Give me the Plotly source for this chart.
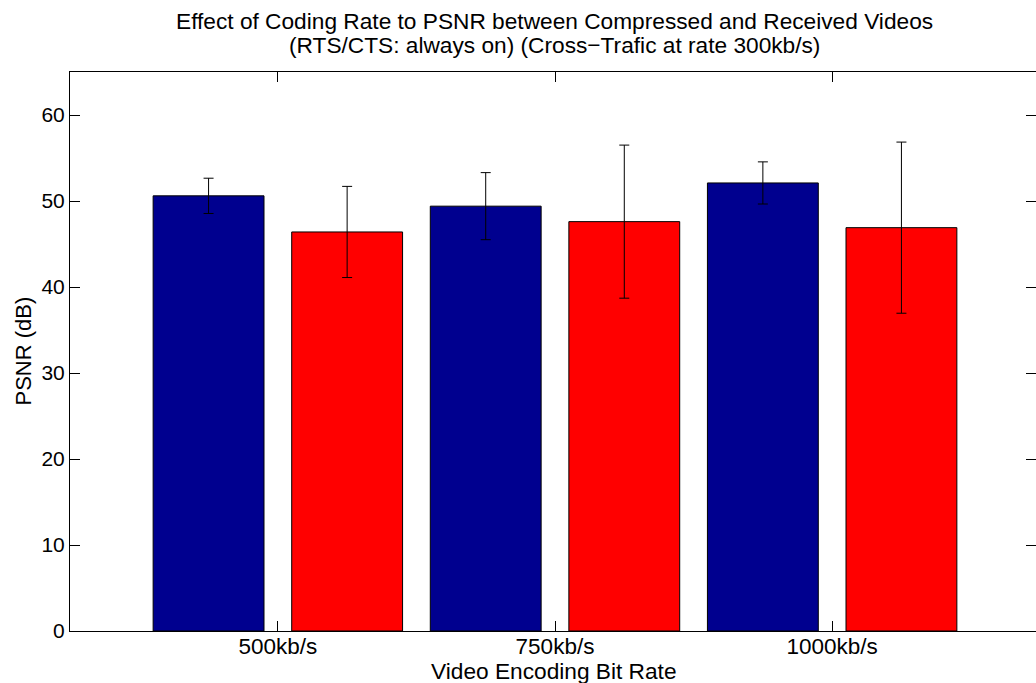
import plotly.graph_objects as go

categories = ["500kb/s", "750kb/s", "1000kb/s"]
cat_pos = [1, 2, 3]
compressed_psnr = [50.6, 49.4, 52.1]
compressed_err = [2.05, 3.9, 2.45]
received_psnr = [46.4, 47.6, 46.9]
received_err = [5.3, 8.9, 9.95]

FONT = "Liberation Sans, Arial, Helvetica, sans-serif"
FS = 22.7
W, H = 1036, 683
ML, MR, MT, MB = 70, 0, 72, 52
PW, PH = W - ML - MR, H - MT - MB

fig = go.Figure()
fig.add_trace(go.Bar(
    x=cat_pos, y=compressed_psnr, width=0.4, offset=-0.45,
    marker=dict(color="#00008F", line=dict(color="black", width=1)),
    error_y=dict(type="data", array=compressed_err, color="black", thickness=1, width=5),
    showlegend=False, name="Compressed"))
fig.add_trace(go.Bar(
    x=cat_pos, y=received_psnr, width=0.4, offset=0.05,
    marker=dict(color="#FF0000", line=dict(color="black", width=1)),
    error_y=dict(type="data", array=received_err, color="black", thickness=1, width=5),
    showlegend=False, name="Received"))

px_per_unit = 970 / 3.5
fig.update_layout(
    width=W, height=H, barmode="overlay",
    margin=dict(l=ML, r=MR, t=MT, b=MB, pad=0),
    paper_bgcolor="white", plot_bgcolor="white",
    font=dict(family=FONT, size=FS, color="black"),
    xaxis=dict(range=[0.25, 0.25 + PW / px_per_unit], tickvals=cat_pos, ticktext=categories,
               ticks="inside", ticklen=10, tickcolor="black", showline=True, linecolor="black",
               linewidth=1, mirror="ticks", showgrid=False, zeroline=False,
               ticklabelstandoff=-5,
               tickfont=dict(family=FONT, size=22.5)),
    yaxis=dict(range=[0, 65], tickvals=[0, 10, 20, 30, 40, 50, 60],
               ticks="inside", ticklen=10, tickcolor="black", showline=True, linecolor="black",
               linewidth=1, mirror="ticks", showgrid=False, zeroline=False,
               tickfont=dict(family=FONT, size=21)),
    annotations=[
        dict(text="Effect of Coding Rate to PSNR between Compressed and Received Videos",
             xref="paper", yref="paper", x=(554 - ML) / PW, y=1 + (MT - 20.5) / PH,
             xanchor="center", yanchor="middle", showarrow=False, font=dict(size=FS)),
        dict(text="(RTS/CTS: always on) (Cross\u2212Trafic at rate 300kb/s)",
             xref="paper", yref="paper", x=(554 - ML) / PW, y=1 + (MT - 44.5) / PH,
             xanchor="center", yanchor="middle", showarrow=False, font=dict(size=FS)),
        dict(text="Video Encoding Bit Rate",
             xref="paper", yref="paper", x=(554 - ML) / PW, y=-(671 - (H - MB)) / PH,
             xanchor="center", yanchor="middle", showarrow=False, font=dict(size=FS)),
        dict(text="PSNR (dB)", textangle=-90,
             xref="paper", yref="paper", x=(23 - ML) / PW, y=0.5,
             xanchor="center", yanchor="middle", showarrow=False, font=dict(size=22)),
    ],
)

fig.write_html("out.html", config={"displayModeBar": False},
               post_script="document.body.style.margin='0px';document.body.style.overflow='hidden';")
